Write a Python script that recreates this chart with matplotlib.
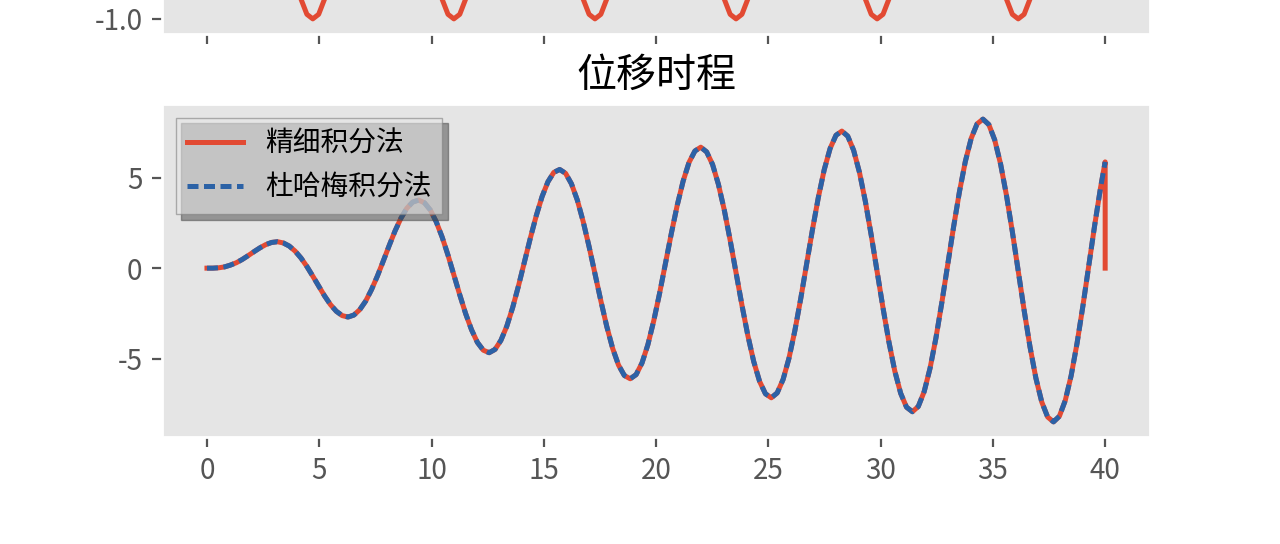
import numpy as np
import matplotlib
matplotlib.use("Agg")
import matplotlib.pyplot as plt
from matplotlib.ticker import FormatStrFormatter

# ---- data read off the chart (sampled every pi/12 s, last point at t = 40 s) ----
# load history sin(t), only its troughs are visible at the top of the picture
load = [
    0.00, 0.26, 0.50, 0.71, 0.87, 0.97, 1.00, 0.97, 0.87, 0.71, 0.50, 0.26,
    0.00, -0.26, -0.50, -0.71, -0.87, -0.97, -1.00, -0.97, -0.87, -0.71, -0.50, -0.26,
    0.00, 0.26, 0.50, 0.71, 0.87, 0.97, 1.00, 0.97, 0.87, 0.71, 0.50, 0.26,
    0.00, -0.26, -0.50, -0.71, -0.87, -0.97, -1.00, -0.97, -0.87, -0.71, -0.50, -0.26,
    0.00, 0.26, 0.50, 0.71, 0.87, 0.97, 1.00, 0.97, 0.87, 0.71, 0.50, 0.26,
    0.00, -0.26, -0.50, -0.71, -0.87, -0.97, -1.00, -0.97, -0.87, -0.71, -0.50, -0.26,
    0.00, 0.26, 0.50, 0.71, 0.87, 0.97, 1.00, 0.97, 0.87, 0.71, 0.50, 0.26,
    0.00, -0.26, -0.50, -0.71, -0.87, -0.97, -1.00, -0.97, -0.87, -0.71, -0.50, -0.26,
    0.00, 0.26, 0.50, 0.71, 0.87, 0.97, 1.00, 0.97, 0.87, 0.71, 0.50, 0.26,
    0.00, -0.26, -0.50, -0.71, -0.87, -0.97, -1.00, -0.97, -0.87, -0.71, -0.50, -0.26,
    0.00, 0.26, 0.50, 0.71, 0.87, 0.97, 1.00, 0.97, 0.87, 0.71, 0.50, 0.26,
    0.00, -0.26, -0.50, -0.71, -0.87, -0.97, -1.00, -0.97, -0.87, -0.71, -0.50, -0.26,
    0.00, 0.26, 0.50, 0.71, 0.87, 0.97, 1.00, 0.97, 0.87,
    0.75,
]

# displacement (Duhamel integral)
disp_duhamel = [
    0.00, 0.00, 0.02, 0.07, 0.17, 0.30, 0.48, 0.69, 0.91, 1.12, 1.30, 1.42,
    1.46, 1.39, 1.22, 0.94, 0.56, 0.09, -0.44, -0.99, -1.53, -2.01, -2.38, -2.62,
    -2.70, -2.59, -2.29, -1.82, -1.18, -0.43, 0.40, 1.25, 2.06, 2.76, 3.31, 3.65,
    3.76, 3.61, 3.21, 2.56, 1.72, 0.72, -0.37, -1.47, -2.51, -3.40, -4.10, -4.53,
    -4.67, -4.49, -3.99, -3.21, -2.18, -0.97, 0.33, 1.65, 2.88, 3.95, 4.77, 5.29,
    5.45, 5.24, 4.66, 3.76, 2.57, 1.19, -0.30, -1.80, -3.21, -4.42, -5.35, -5.93,
    -6.11, -5.88, -5.24, -4.23, -2.91, -1.38, 0.27, 1.93, 3.48, 4.81, 5.84, 6.47,
    6.68, 6.42, 5.73, 4.63, 3.21, 1.54, -0.24, -2.04, -3.71, -5.15, -6.25, -6.94,
    -7.16, -6.89, -6.15, -4.98, -3.46, -1.69, 0.22, 2.13, 3.91, 5.44, 6.61, 7.34,
    7.57, 7.29, 6.51, 5.28, 3.68, 1.81, -0.20, -2.20, -4.07, -5.68, -6.91, -7.68,
    -7.93, -7.64, -6.82, -5.53, -3.86, -1.91, 0.18, 2.27, 4.22, 5.89, 7.17, 7.97,
    8.23, 7.93, 7.08, 5.75, 4.02, 2.01, -0.16, -2.32, -4.34, -6.07, -7.39, -8.22,
    -8.49, -8.18, -7.31, -5.94, -4.16, -2.09, 0.14, 2.36, 4.44,
    5.87,
]

# precise integration: same curve, its array ends with an extra 0 at t = 40
disp_precise = disp_duhamel + [0.0]

t = np.append(np.arange(len(disp_duhamel) - 1) * np.pi / 12, 40.0)
t_precise = np.append(t, 40.0)

# ---- style ----
plt.style.use("ggplot")
plt.rcParams["font.family"] = ["Noto Sans CJK SC", "DejaVu Sans"]
plt.rcParams["axes.unicode_minus"] = False
plt.rcParams["axes.grid"] = False

RED = "#E24A33"
BLUE = "#2C62A6"
LW = 1.8

fig = plt.figure(figsize=(6.4, 2.72), dpi=200)

# lower panel: displacement
ax2 = fig.add_axes([0.1266, 0.1967, 0.7719, 0.6121])
ax2.plot(t_precise, disp_precise, color=RED, lw=LW, label="精细积分法")
ax2.plot(t, disp_duhamel, color=BLUE, lw=LW, ls="--", dashes=(2.2, 1.1),
         label="杜哈梅积分法")
ax2.set_title("位移时程", color="black")
ax2.set_xticks(np.arange(0, 41, 5))
ax2.set_yticks([-5, 0, 5])
leg = ax2.legend(loc="upper left", shadow=True, fancybox=False,
                 edgecolor="0.5", framealpha=0.6)
for txt in leg.get_texts():
    txt.set_color("black")

# upper panel: load (mostly cut off by the picture)
ax1 = fig.add_axes([0.1266, 0.9375, 0.7719, 0.6121], sharex=ax2)
ax1.plot(t, load, color=RED, lw=LW)
ax1.set_ylim(-1.1, 1.1)
ax1.set_yticks([-1.0])
ax1.yaxis.set_major_formatter(FormatStrFormatter("%.1f"))
ax1.tick_params(axis="x", labelbottom=False)

fig.savefig("out.png", dpi=200)
